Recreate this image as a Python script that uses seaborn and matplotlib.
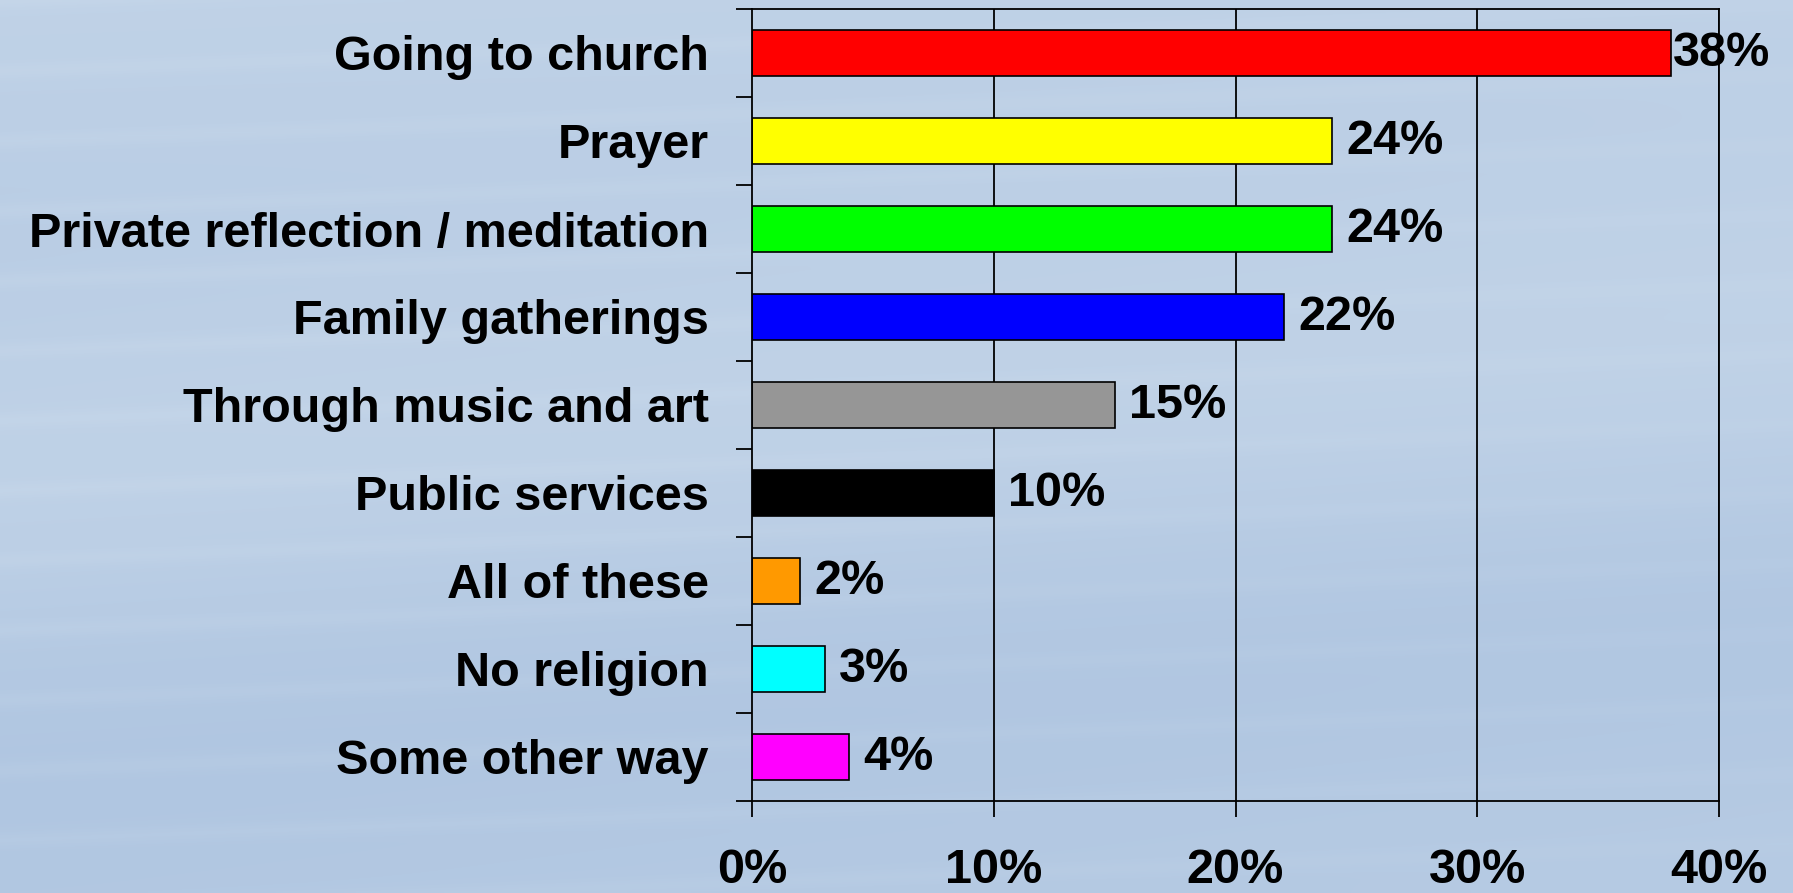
import numpy as np
import pandas as pd
import matplotlib
matplotlib.use("Agg")
import matplotlib.pyplot as plt
import seaborn as sns
from matplotlib.ticker import FixedLocator, FuncFormatter

categories = ["Going to church", "Prayer", "Private reflection / meditation",
              "Family gatherings", "Through music and art", "Public services",
              "All of these", "No religion", "Some other way"]
values = [38, 24, 24, 22, 15, 10, 2, 3, 4]
colors = ["#FF0000", "#FFFF00", "#00FF00", "#0000FF", "#969696", "#000000",
          "#FF9900", "#00FFFF", "#FF00FF"]
xticks = [0, 10, 20, 30, 40]

sns.set_theme(style="white")
plt.rcParams['font.family'] = ['Liberation Sans', 'DejaVu Sans']
plt.rcParams['font.weight'] = 'bold'
plt.rcParams['text.color'] = 'black'
plt.rcParams['xtick.color'] = 'black'
plt.rcParams['ytick.color'] = 'black'

FS = 35
W, H, DPI = 1793, 893, 100
fig = plt.figure(figsize=(W / DPI, H / DPI), dpi=DPI)

# background sky gradient
bg = fig.add_axes([0, 0, 1, 1], zorder=-10)
yy, xx = np.mgrid[0:1:300j, 0:1:600j]
base = 0.35 + 0.35 * yy + 0.15 * np.sin(yy * 9 + xx * 1.5) * np.exp(-((yy - 0.6) ** 2) * 4)
streak = 0.12 * np.exp(-((np.sin(yy * 40 + xx * 3)) ** 2) * 8) * (1 - xx * 0.5)
v = np.clip(base - streak, 0, 1)
light = np.array([205, 220, 236]) / 255
dark = np.array([168, 192, 222]) / 255
img = light[None, None, :] * (1 - v[..., None]) + dark[None, None, :] * v[..., None]
bg.imshow(img, aspect='auto', extent=[0, 1, 0, 1], interpolation='bilinear')
bg.axis('off')

ax = fig.add_axes([752 / W, 1 - 801 / H, (1719 - 752) / W, (801 - 9) / H])
ax.patch.set_alpha(0)

df = pd.DataFrame({"cat": categories, "val": values})
sns.barplot(data=df, x="val", y="cat", hue="cat", palette=colors, order=categories,
            hue_order=categories, orient="h", width=0.53, legend=False, ax=ax,
            edgecolor="black", linewidth=1.2, saturation=1)

ax.set_xlim(0, 40)
ax.set_ylim(len(categories) - 0.5, -0.5)
ax.set_xlabel("")
ax.set_ylabel("")

ax.xaxis.set_major_locator(FixedLocator(xticks))
ax.xaxis.set_major_formatter(FuncFormatter(lambda x, p: f"{int(x)}%"))
ax.tick_params(axis='x', direction='out', length=11.5, width=1.3, color='black',
               pad=22, labelsize=FS, bottom=True, labelcolor='black')
for lab in ax.get_xticklabels():
    lab.set_fontweight('bold')

ax.yaxis.set_major_locator(FixedLocator(np.arange(-0.5, len(categories), 1.0)))
ax.yaxis.set_major_formatter(FuncFormatter(lambda x, p: ""))
ax.yaxis.set_minor_locator(FixedLocator(np.arange(len(categories))))
ax.yaxis.set_minor_formatter(FuncFormatter(lambda x, p: categories[int(round(x))]))
ax.tick_params(axis='y', which='major', direction='out', length=11.5, width=1.3,
               color='black', left=True)
ax.tick_params(axis='y', which='minor', length=0, pad=31, labelsize=FS, left=True,
               labelcolor='black')
for lab in ax.get_yticklabels(minor=True):
    lab.set_fontweight('bold')

for x in xticks[1:]:
    ax.axvline(x, color='black', lw=1.3, zorder=0.5)

for s in ax.spines.values():
    s.set_visible(True)
    s.set_color('black')
    s.set_linewidth(1.3)

for i, v_ in enumerate(values):
    off = 0.6 if v_ < 35 else 0.1
    ax.text(v_ + off, i, f"{v_}%", va='center', ha='left', fontsize=FS,
            fontweight='bold', color='black', clip_on=False)

fig.savefig("out.png", dpi=DPI)
